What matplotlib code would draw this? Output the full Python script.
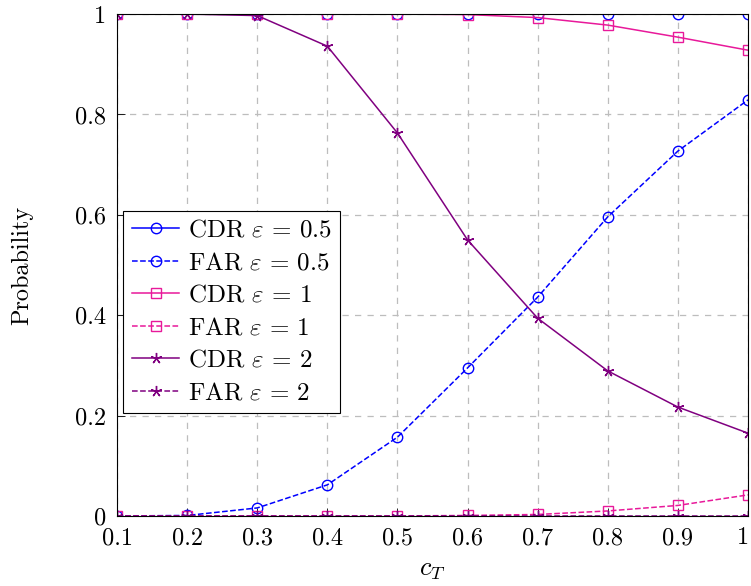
import matplotlib
matplotlib.use("Agg")
import matplotlib.pyplot as plt
import matplotlib.transforms as mtransforms

plt.rcParams['font.family'] = ['cmr10', 'DejaVu Serif']
plt.rcParams['mathtext.fontset'] = 'cm'
plt.rcParams['axes.formatter.use_mathtext'] = True

c_T = [0.1, 0.2, 0.3, 0.4, 0.5, 0.6, 0.7, 0.8, 0.9, 1.0]
cdr_05 = [1, 1, 1, 1, 1, 1, 1, 1, 1, 1]
far_05 = [0.0, 0.001, 0.016, 0.062, 0.157, 0.295, 0.436, 0.596, 0.727, 0.829]
cdr_1 = [1, 1, 1, 1, 1, 0.999, 0.993, 0.978, 0.954, 0.928]
far_1 = [0.0, 0.0, 0.0, 0.0, 0.0, 0.001, 0.003, 0.010, 0.021, 0.042]
cdr_2 = [1, 1, 0.997, 0.936, 0.763, 0.550, 0.394, 0.289, 0.217, 0.165]
far_2 = [0, 0, 0, 0, 0, 0, 0, 0, 0, 0]

xticks = [0.1, 0.2, 0.3, 0.4, 0.5, 0.6, 0.7, 0.8, 0.9, 1.0]
xticklabels = ['0.1', '0.2', '0.3', '0.4', '0.5', '0.6', '0.7', '0.8', '0.9', '1']
yticks = [0, 0.2, 0.4, 0.6, 0.8, 1.0]
yticklabels = ['0', '0.2', '0.4', '0.6', '0.8', '1']

blue = '#0000FF'
pink = '#E8199A'
purple = '#800080'

fig = plt.figure(figsize=(7.51, 5.86), dpi=100)
ax = fig.add_axes([0.1558, 0.1195, 0.8402, 0.8565])

ms = 7.5
lw = 1.1
ax.plot(c_T, cdr_05, '-', color=blue, marker='o', mfc='none', ms=ms, lw=lw, label=r'CDR $\varepsilon\,=\,0.5$')
ax.plot(c_T, far_05, '--', color=blue, marker='o', mfc='none', ms=ms, lw=lw, label=r'FAR $\varepsilon\,=\,0.5$')
ax.plot(c_T, cdr_1, '-', color=pink, marker='s', mfc='none', ms=ms, lw=lw, label=r'CDR $\varepsilon\,=\,1$')
ax.plot(c_T, far_1, '--', color=pink, marker='s', mfc='none', ms=ms, lw=lw, label=r'FAR $\varepsilon\,=\,1$')
ax.plot(c_T, cdr_2, '-', color=purple, marker=(5, 2, 0), ms=8, mew=1.0, lw=lw, label=r'CDR $\varepsilon\,=\,2$')
ax.plot(c_T, far_2, '--', color=purple, marker=(5, 2, 0), ms=8, mew=1.0, lw=lw, label=r'FAR $\varepsilon\,=\,2$')

ax.set_xlim(0.1, 1.0)
ax.set_ylim(0, 1)
ax.set_xticks(xticks)
ax.set_xticklabels(xticklabels)
ax.set_yticks(yticks)
ax.set_yticklabels(yticklabels)
ax.tick_params(labelsize=17.5, direction='in', length=6, width=0.6, pad=8)
ax.grid(True, color='#BDBDBD', linestyle=(0, (5, 5)), linewidth=0.9)
ax.set_axisbelow(True)
for s in ax.spines.values():
    s.set_linewidth(0.8)
    s.set_color('black')

# nudge the last x tick label so it stays inside the figure
last = ax.get_xticklabels()[-1]
last.set_transform(last.get_transform() + mtransforms.ScaledTranslation(-5 / 100, 0, fig.dpi_scale_trans))

ax.set_xlabel(r'$c_T$', fontsize=19, va='center')
ax.xaxis.set_label_coords(0.5, -0.108)
ax.set_ylabel('Probability', fontsize=17.5, va='center')
ax.yaxis.set_label_coords(-0.151, 0.5)

leg = ax.legend(loc='lower left', bbox_to_anchor=(0.0095, 0.205), fontsize=18,
                frameon=True, fancybox=False, edgecolor='black', framealpha=1,
                handlelength=1.9, borderpad=0.35, labelspacing=0.4, handletextpad=0.35,
                borderaxespad=0)
leg.get_frame().set_linewidth(0.8)

fig.savefig('out.png', dpi=100)
